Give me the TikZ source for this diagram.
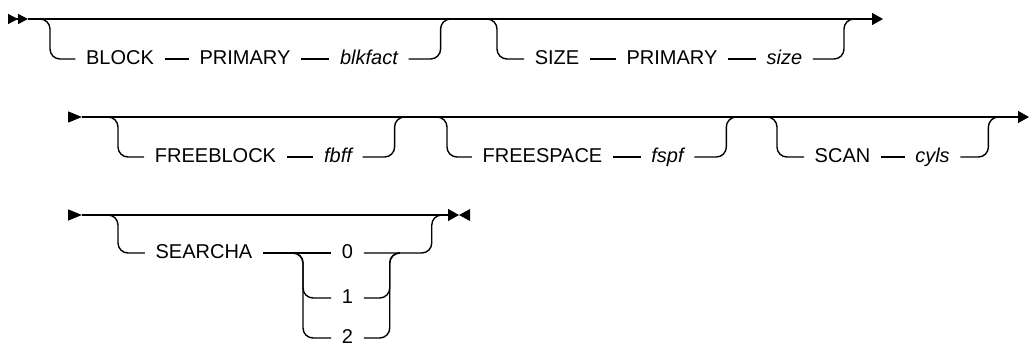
\documentclass[tikz,border=0pt]{standalone}
\usepackage{fontspec}
\setmainfont{Liberation Sans}
\usetikzlibrary{arrows.meta}
\newcommand\railfont{\fontsize{20}{24}\selectfont}

\begin{document}
\begin{tikzpicture}[x=1pt, y=-1pt, line width=1.4pt, font=\railfont,
  rail/.style={rounded corners=10pt},
  kw/.style={inner xsep=10pt, inner ysep=0pt, text height=13pt, text depth=2.6pt},
  var/.style={kw, font=\railfont\itshape},
  tip/.style={-{Triangle[length=11pt,width=12pt]}},
  go/.style={-{Triangle[length=14pt,width=11pt]}}]
  \useasboundingbox (0,0) rectangle (1029,343);
  % first line
  \coordinate (s1) at (28,19);
  \coordinate (e1) at (883,19);
  \draw[-{Triangle[length=10pt,width=10pt]Triangle[length=10pt,width=10pt]}] (8,19) -- (s1);
  \draw[tip] (s1) -- (e1);
  \node[kw] (block) at (120,59) {BLOCK};
  \node[kw] (prim1) at (245,59) {PRIMARY};
  \node[var] (blkfact) at (369,59) {blkfact};
  \node[kw] (size) at (557,59) {SIZE};
  \node[kw] (prim2) at (672,59) {PRIMARY};
  \node[var] (sizev) at (784.5,59) {size};
  \coordinate (b1) at (37,19);  \coordinate (m1) at (457,19);
  \coordinate (b2) at (487,19); \coordinate (m2) at (853,19);
  \draw[rail] (b1) -- ++(13,0) |- (block.west);
  \draw (block.east) -- (prim1.west);
  \draw (prim1.east) -- (blkfact.west);
  \draw[rail] (blkfact.east) -| ++(32,-40) -- (m1);
  \draw[rail] (b2) -- ++(10,0) |- (size.west);
  \draw (size.east) -- (prim2.west);
  \draw (prim2.east) -- (sizev.west);
  \draw[rail] (sizev.east) -| ++(31,-40) -- (m2);
  % second line
  \coordinate (s2) at (82,117);
  \coordinate (e2) at (1029,117);
  \draw[go] (68,117) -- (s2);
  \draw[tip] (s2) -- (e2);
  \node[kw] (freeblk) at (215.5,157) {FREEBLOCK};
  \node[var] (fbff) at (338,157) {fbff};
  \node[kw] (freesp) at (542.5,157) {FREESPACE};
  \node[var] (fspf) at (667.5,157) {fspf};
  \node[kw] (scan) at (842.5,157) {SCAN};
  \node[var] (cyls) at (932.5,157) {cyls};
  \coordinate (b3) at (108,117); \coordinate (m3) at (407,117);
  \coordinate (b4) at (437,117); \coordinate (m4) at (740,117);
  \coordinate (b5) at (767,117); \coordinate (m5) at (1000,117);
  \draw[rail] (b3) -- ++(10,0) |- (freeblk.west);
  \draw (freeblk.east) -- (fbff.west);
  \draw[rail] (fbff.east) -| ++(32,-40) -- (m3);
  \draw[rail] (b4) -- ++(10,0) |- (freesp.west);
  \draw (freesp.east) -- (fspf.west);
  \draw[rail] (fspf.east) -| ++(32,-40) -- (m4);
  \draw[rail] (b5) -- ++(10,0) |- (scan.west);
  \draw (scan.east) -- (cyls.west);
  \draw[rail] (cyls.east) -| ++(28,-40) -- (m5);
  % third line
  \coordinate (s3) at (82,215);
  \coordinate (e3) at (459,215);
  \draw[go] (68,215) -- (s3);
  \draw[tip] (s3) -- (e3);
  \fill (e3) -- (470,209) -- (470,221) -- cycle;
  \node[kw] (searcha) at (204,253) {SEARCHA};
  \node[kw] (c0) at (347.5,253) {0};
  \node[kw] (c1) at (347.5,298) {1};
  \node[kw] (c2) at (347.5,338) {2};
  \coordinate (b6) at (108,215); \coordinate (m6) at (440,215);
  \coordinate (k1) at (293,253); \coordinate (k2) at (398,253);
  \draw[rail] (b6) -- ++(10,0) |- (searcha.west);
  \draw (searcha.east) -- (c0.west);
  \draw[rail] (k1) -- ++(10,0) |- (c1.west);
  \draw[rail] (k1) -- ++(10,0) |- (c2.west);
  \draw[rail] (c1.east) -| ++(26,-45) -- (k2);
  \draw[rail] (c2.east) -| ++(26,-85) -- (k2);
  \draw[rail] (c0.east) -| ++(68,-38) -- (m6);
\end{tikzpicture}
\end{document}
